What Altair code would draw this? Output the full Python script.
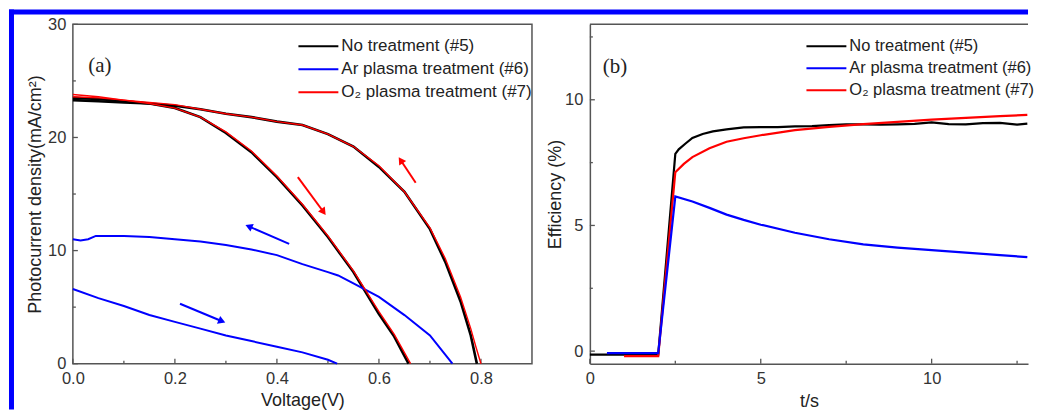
import math
import altair as alt
import pandas as pd

FONT = "Liberation Sans"
SERIF = "Liberation Serif"

SERIES = ["No treatment (#5)", "Ar plasma treatment (#6)", "O\u2082 plasma treatment (#7)"]
COLORS = ["#000000", "#0000ff", "#ff0000"]

# ---------------- Panel (a): J-V curves (forward scan 0->Voc, reverse scan Voc->0)
V_black_fwd = [0.0, 0.05, 0.10, 0.15, 0.20, 0.25, 0.30, 0.35, 0.40, 0.45, 0.50, 0.55, 0.60, 0.63, 0.658]
J_black_fwd = [23.3, 23.2, 23.1, 23.0, 22.6, 21.8, 20.4, 18.7, 16.5, 14.0, 11.2, 8.1, 4.4, 2.4, 0.0]
V_black_rev = [0.0, 0.05, 0.10, 0.15, 0.20, 0.25, 0.30, 0.35, 0.40, 0.45, 0.50, 0.55, 0.60, 0.65, 0.70, 0.73, 0.76, 0.78, 0.792]
J_black_rev = [23.5, 23.4, 23.2, 23.0, 22.8, 22.5, 22.1, 21.8, 21.4, 21.1, 20.3, 19.2, 17.4, 15.2, 11.9, 9.0, 5.5, 2.5, 0.0]

V_red_fwd = [0.0, 0.05, 0.10, 0.15, 0.20, 0.25, 0.30, 0.35, 0.40, 0.45, 0.50, 0.55, 0.60, 0.63, 0.662]
J_red_fwd = [23.8, 23.6, 23.3, 23.0, 22.6, 21.8, 20.5, 18.8, 16.6, 14.1, 11.3, 8.2, 4.6, 2.6, 0.0]
V_red_rev = [0.0, 0.05, 0.10, 0.15, 0.20, 0.25, 0.30, 0.35, 0.40, 0.45, 0.50, 0.55, 0.60, 0.65, 0.70, 0.73, 0.76, 0.78, 0.79, 0.80]
J_red_rev = [23.6, 23.5, 23.3, 23.1, 22.9, 22.5, 22.1, 21.8, 21.4, 21.1, 20.3, 19.2, 17.5, 15.2, 12.0, 9.3, 5.9, 3.1, 1.5, 0.0]

V_blue_fwd = [0.0, 0.05, 0.10, 0.15, 0.20, 0.25, 0.30, 0.35, 0.40, 0.45, 0.50, 0.518]
J_blue_fwd = [6.6, 5.8, 5.1, 4.3, 3.7, 3.1, 2.5, 2.0, 1.5, 1.0, 0.35, 0.0]
V_blue_rev = [0.0, 0.015, 0.03, 0.045, 0.10, 0.15, 0.20, 0.25, 0.30, 0.35, 0.40, 0.45, 0.50, 0.52, 0.55, 0.60, 0.65, 0.70, 0.744]
J_blue_rev = [11.0, 10.9, 11.0, 11.3, 11.3, 11.2, 11.0, 10.8, 10.5, 10.1, 9.6, 8.8, 8.1, 7.8, 7.1, 5.9, 4.3, 2.5, 0.0]

# scan-direction arrows (start -> end)
ARROW_SERIES = [SERIES[2], SERIES[2], SERIES[1], SERIES[1]]
ARROW_V0 = [0.441, 0.672, 0.424, 0.210]
ARROW_J0 = [16.5, 16.0, 10.6, 5.3]
ARROW_V1 = [0.490, 0.644, 0.347, 0.290]
ARROW_J1 = [13.5, 17.9, 12.1, 3.8]

XA_MAJOR = [0.0, 0.2, 0.4, 0.6, 0.8]
XA_MINOR = [0.1, 0.3, 0.5, 0.7]
YA_MAJOR = [0, 10, 20, 30]
YA_MINOR = [5, 15, 25]

# ---------------- Panel (b): efficiency vs time
T_black = [0.0, 0.5, 1.0, 1.5, 2.0, 2.5, 2.6, 2.8, 3.0, 3.3, 3.6, 4.0, 4.5, 5.0, 5.5, 6.0, 6.5, 7.0, 7.5, 8.0,
           8.5, 9.0, 9.5, 10.0, 10.5, 11.0, 11.5, 12.0, 12.5, 12.8]
E_black = [-0.14, -0.14, -0.14, -0.14, -0.14, 7.85, 8.03, 8.26, 8.48, 8.64, 8.74, 8.82, 8.90, 8.91, 8.91, 8.94,
           8.95, 8.99, 9.02, 9.02, 9.01, 9.02, 9.04, 9.10, 9.03, 9.02, 9.07, 9.08, 9.01, 9.05]
T_blue = [0.5, 1.0, 1.5, 2.0, 2.5, 3.0, 3.5, 4.0, 4.5, 5.0, 6.0, 7.0, 8.0, 9.0, 10.0, 11.0, 12.0, 12.8]
E_blue = [-0.08, -0.08, -0.08, -0.08, 6.15, 5.95, 5.70, 5.43, 5.22, 5.03, 4.71, 4.45, 4.25, 4.12, 4.02, 3.92,
          3.82, 3.74]
T_red = [1.0, 1.5, 2.0, 2.5, 2.75, 3.0, 3.5, 4.0, 4.5, 5.0, 6.0, 7.0, 8.0, 9.0, 10.0, 11.0, 12.0, 12.8]
E_red = [-0.20, -0.20, -0.20, 7.12, 7.45, 7.72, 8.07, 8.33, 8.47, 8.59, 8.79, 8.92, 9.03, 9.12, 9.21, 9.28,
         9.35, 9.40]

XB_MAJOR = [0, 5, 10]
XB_MINOR = [2.5, 7.5, 12.5]
YB_MAJOR = [0, 5, 10]
YB_MINOR = [2.5, 7.5, 12.5]

# ---------------- layout constants
WA, HA = 460, 340
WB, HB = 439, 340
XA_DOM = [0, 0.9]
YA_DOM = [0, 30]
XB_DOM = [0, 12.82]
YB_DOM = [-0.5, 13]
AX = "#555555"

color_scale = alt.Scale(domain=SERIES, range=COLORS)


def make_legend(x, y, rp, fs):
    return alt.Legend(title=None, orient="none", legendX=x, legendY=y, symbolType="stroke",
                      symbolSize=1600, symbolStrokeWidth=2, clipHeight=19, labelFontSize=fs, labelFont=FONT,
                      labelColor="#222222", rowPadding=rp, labelOffset=2, padding=0, labelLimit=400)


def make_axis(values, fmt, title, title_pad, domain):
    return alt.Axis(values=values, format=fmt, title=title, ticks=False, tickSize=0, grid=False,
                    domain=domain, domainColor=AX, domainWidth=1.5, labelFont=FONT, labelFontSize=16.5,
                    labelColor="#333333", labelPadding=7, labelFlush=False, labelOverlap=False,
                    titleFont=FONT, titleFontSize=18, titleFontWeight="normal", titleColor="#222222",
                    titlePadding=title_pad)


def curve_df(series, scan, xs, ys, xname, yname):
    return pd.DataFrame({xname: xs, yname: ys, "series": series, "scan": scan, "i": list(range(len(xs)))})


# ================= Panel (a)
xa = alt.X("V:Q", scale=alt.Scale(domain=XA_DOM, nice=False, zero=False),
           axis=make_axis(XA_MAJOR, ".1f", "Voltage(V)", 4, False))
ya = alt.Y("J:Q", scale=alt.Scale(domain=YA_DOM, nice=False),
           axis=make_axis(YA_MAJOR, "d", "Photocurrent density(mA/cm\u00b2)", 3, False))
leg_a = make_legend(225, 12.5, 4, 17)


def jv_layer(df, sw):
    return alt.Chart(df).mark_line(strokeWidth=sw).encode(
        x=xa, y=ya,
        color=alt.Color("series:N", scale=color_scale, legend=leg_a),
        detail="scan:N", order="i:Q")


df_black = pd.concat([curve_df(SERIES[0], "f", V_black_fwd, J_black_fwd, "V", "J"),
                      curve_df(SERIES[0], "r", V_black_rev, J_black_rev, "V", "J")])
df_blue = pd.concat([curve_df(SERIES[1], "f", V_blue_fwd, J_blue_fwd, "V", "J"),
                     curve_df(SERIES[1], "r", V_blue_rev, J_blue_rev, "V", "J")])
df_red = pd.concat([curve_df(SERIES[2], "f", V_red_fwd, J_red_fwd, "V", "J"),
                    curve_df(SERIES[2], "r", V_red_rev, J_red_rev, "V", "J")])

kx = WA / (XA_DOM[1] - XA_DOM[0])
ky = HA / (YA_DOM[1] - YA_DOM[0])
angles = [math.degrees(math.atan2((v1 - v0) * kx, (j1 - j0) * ky)) % 360
          for v0, j0, v1, j1 in zip(ARROW_V0, ARROW_J0, ARROW_V1, ARROW_J1)]
df_arrow = pd.DataFrame({"V": ARROW_V0, "J": ARROW_J0, "V2": ARROW_V1, "J2": ARROW_J1,
                         "series": ARROW_SERIES, "ang": angles})

arrow_lines = alt.Chart(df_arrow).mark_rule(strokeWidth=2).encode(
    x=xa, y=ya, x2="V2:Q", y2="J2:Q",
    color=alt.Color("series:N", scale=color_scale, legend=leg_a))
arrow_heads = alt.Chart(df_arrow).mark_point(shape="triangle", filled=True, size=70, opacity=1).encode(
    x=alt.X("V2:Q", scale=alt.Scale(domain=XA_DOM, nice=False, zero=False)),
    y=alt.Y("J2:Q", scale=alt.Scale(domain=YA_DOM, nice=False)),
    angle=alt.Angle("ang:Q", scale=None),
    color=alt.Color("series:N", scale=color_scale, legend=leg_a))

label_a = alt.Chart(pd.DataFrame({"V": [0.030], "J": [26.3], "t": ["(a)"]})).mark_text(
    font=SERIF, fontSize=21, align="left", baseline="middle", color="#222222").encode(x=xa, y=ya, text="t:N")

one = pd.DataFrame({"k": [0]})
ticks_a = alt.layer(
    alt.Chart(pd.DataFrame({"V": XA_MAJOR})).mark_rule(color=AX, strokeWidth=1.3).encode(
        x=xa, y=alt.value(HA), y2=alt.value(HA - 5)),
    alt.Chart(pd.DataFrame({"V": XA_MINOR})).mark_rule(color=AX, strokeWidth=1.3).encode(
        x=xa, y=alt.value(HA), y2=alt.value(HA - 3)),
    alt.Chart(pd.DataFrame({"J": YA_MAJOR})).mark_rule(color=AX, strokeWidth=1.3).encode(
        y=ya, x=alt.value(0), x2=alt.value(5)),
    alt.Chart(pd.DataFrame({"J": YA_MINOR})).mark_rule(color=AX, strokeWidth=1.3).encode(
        y=ya, x=alt.value(0), x2=alt.value(3)),
)

frame = alt.layer(
    alt.Chart(one).mark_rect(color="#0000ff").encode(
        x=alt.value(-64), x2=alt.value(-59), y=alt.value(-15), y2=alt.value(386)),
    alt.Chart(one).mark_rect(color="#0000ff").encode(
        x=alt.value(-64), x2=alt.value(957), y=alt.value(-15), y2=alt.value(-10)),
)

panel_a = alt.layer(
    frame, ticks_a, jv_layer(df_black, 2.6), jv_layer(df_blue, 2.0), jv_layer(df_red, 1.4),
    arrow_lines, arrow_heads, label_a,
).properties(width=WA, height=HA, view=alt.ViewBackground(stroke=AX, strokeWidth=1.5))

# ================= Panel (b)
xb = alt.X("t:Q", scale=alt.Scale(domain=XB_DOM, nice=False, zero=False),
           axis=make_axis(XB_MAJOR, "d", "t/s", 5, True))
yb = alt.Y("E:Q", scale=alt.Scale(domain=YB_DOM, nice=False, zero=False),
           axis=make_axis(YB_MAJOR, "d", "Efficiency (%)", 0, True))
leg_b = make_legend(216, 12.5, 3, 16.5)


def eff_layer(series, ts, es):
    return alt.Chart(curve_df(series, "s", ts, es, "t", "E")).mark_line(strokeWidth=2.2).encode(
        x=xb, y=yb, color=alt.Color("series:N", scale=color_scale, legend=leg_b), order="i:Q")


ticks_b = alt.layer(
    alt.Chart(pd.DataFrame({"t": XB_MAJOR})).mark_rule(color=AX, strokeWidth=1.3).encode(
        x=xb, y=alt.value(HB), y2=alt.value(HB - 5)),
    alt.Chart(pd.DataFrame({"t": XB_MINOR})).mark_rule(color=AX, strokeWidth=1.3).encode(
        x=xb, y=alt.value(HB), y2=alt.value(HB - 3)),
    alt.Chart(pd.DataFrame({"E": YB_MAJOR})).mark_rule(color=AX, strokeWidth=1.3).encode(
        y=yb, x=alt.value(0), x2=alt.value(5)),
    alt.Chart(pd.DataFrame({"E": YB_MINOR})).mark_rule(color=AX, strokeWidth=1.3).encode(
        y=yb, x=alt.value(0), x2=alt.value(3)),
    alt.Chart(one).mark_rule(color=AX, strokeWidth=1.5).encode(
        x=alt.value(0), x2=alt.value(WB), y=alt.value(0)),
)

label_b = alt.Chart(pd.DataFrame({"t": [0.38], "E": [11.3], "s": ["(b)"]})).mark_text(
    font=SERIF, fontSize=21, align="left", baseline="middle", color="#222222").encode(x=xb, y=yb, text="s:N")

panel_b = alt.layer(
    ticks_b,
    eff_layer(SERIES[0], T_black, E_black),
    eff_layer(SERIES[2], T_red, E_red),
    eff_layer(SERIES[1], T_blue, E_blue),
    label_b,
).properties(width=WB, height=HB, view=alt.ViewBackground(stroke="transparent"))

chart = alt.hconcat(panel_a, panel_b, spacing=58, bounds="flush").resolve_scale(
    color="independent").resolve_legend(color="independent").properties(
    padding=0, background="white").configure_view(stroke="transparent")

chart.save("out.html", embed_options={"renderer": "svg", "actions": False})
